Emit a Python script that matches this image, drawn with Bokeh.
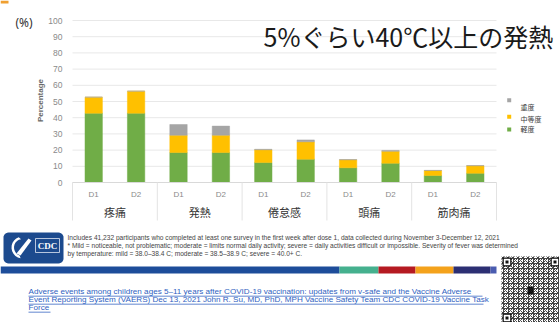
import math
from bokeh.plotting import figure
from bokeh.models import Range1d, ColumnDataSource
from bokeh.core.properties import value
from bokeh.embed import file_html
from bokeh.resources import INLINE

# ---------------- data ----------------
groups = ["疼痛", "発熱", "倦怠感", "頭痛", "筋肉痛"]
doses = ["D1", "D2"]
mild = [42.8, 42.8, 18.5, 18.5, 12.3, 14.4, 9.1, 11.9, 4.3, 5.7]
moderate = [9.9, 13.6, 10.7, 10.7, 7.9, 10.7, 4.9, 7.4, 3.1, 4.6]
severe = [0.0, 0.0, 6.6, 5.6, 0.3, 1.2, 0.2, 0.5, 0.1, 0.2]
y_ticks = [0, 10, 20, 30, 40, 50, 60, 70, 80, 90, 100]
severity_labels = ["軽度", "中等度", "重度"]
severity_colors = ["#70ad47", "#ffc000", "#a5a5a5"]
title_text = "5%ぐらい40℃以上の発熱"
unit_text = "(%)"
y_label = "Percentage"
footnote_lines = [
    "Includes 41,232 participants who completed at least one survey in the first week after dose 1, data collected during November 3-December 12, 2021",
    "* Mild = noticeable, not problematic; moderate = limits normal daily activity; severe = daily activities difficult or impossible. Severity of fever was determined",
    "by temperature: mild = 38.0\u201338.4 C; moderate = 38.5\u201338.9 C; severe = 40.0+ C.",
]
source_lines = [
    "Adverse events among children ages 5\u201311 years after COVID-19 vaccination: updates from v-safe and the Vaccine Adverse",
    "Event Reporting System (VAERS) Dec 13, 2021 John R. Su, MD, PhD, MPH Vaccine Safety Team CDC COVID-19 Vaccine Task",
    "Force",
]
band_colors = ["#1d4d9a", "#45b08e", "#b51a22", "#f4a21c", "#2c2f73", "#4a5cb0"]

# ---------------- layout constants (pixels) ----------------
W, H = 559, 322
FL, FR, FT, FB = 72, 496, 20, 182      # chart plotting area on the page

factors = [(g, d) for g in groups for d in doses]
n_slots = len(factors)
xpos = [i + 0.5 for i in range(n_slots)]
gcent = [2 * k + 1 for k in range(len(groups))]
gedges = [2 * k for k in range(len(groups) + 1)]

s = (FR - FL) / n_slots          # pixels per slot
kpx = (FB - FT) / 100.0          # pixels per percent

p = figure(width=W, height=H,
           x_range=Range1d(-FL / s, (W - FL) / s),
           y_range=Range1d((FB - H) / kpx, FB / kpx),
           output_backend="svg", toolbar_location=None,
           x_axis_location=None, y_axis_location=None,
           min_border=0, min_border_left=0, min_border_right=0,
           min_border_top=0, min_border_bottom=0)
p.outline_line_color = None
p.background_fill_color = "white"
p.border_fill_color = "white"
p.grid.visible = False
# page-pixel helper ranges for the slide decorations
p.extra_x_ranges = {"px": Range1d(0, W)}
p.extra_y_ranges = {"py": Range1d(H, 0)}

def ptext(x, y, text, size, color, font="Liberation Sans", align="left",
          style="normal", xname="px", yname="py", baseline="middle", angle=0):
    p.text(x=x, y=y, text=text, x_range_name=xname, y_range_name=yname,
           text_font=value(font), text_font_size=value(size), text_color=color,
           text_align=align, text_baseline=baseline, text_font_style=style,
           angle=angle)

def pquad(l, r, t, b, color, xname="px", yname="py", **kw):
    p.quad(left=l, right=r, top=t, bottom=b, x_range_name=xname, y_range_name=yname,
           fill_color=color, line_color=None, **kw)

# ---------------- chart ----------------
# grid lines
p.segment(x0=[0] * len(y_ticks), x1=[n_slots] * len(y_ticks), y0=y_ticks, y1=y_ticks,
          line_color="#e8e8e8", line_width=1)
# bars
src = ColumnDataSource(dict(x=xpos, mild=mild, moderate=moderate, severe=severe))
p.vbar_stack(["mild", "moderate", "severe"], x="x", width=0.41,
             color=severity_colors, line_color=severity_colors, line_width=0.5,
             source=src)
# category axis line and separators
p.segment(x0=[0], x1=[n_slots], y0=[0], y1=[0], line_color="#d9d9d9", line_width=1)
p.segment(x0=gedges, x1=gedges, y0=[FB] * len(gedges), y1=[220] * len(gedges),
          y_range_name="py", line_color="#e3e3e3", line_width=1)
# y tick labels
ptext([FL - 10] * len(y_ticks), y_ticks, [str(t) for t in y_ticks], "8.5px", "#8a8a8a",
      align="right", yname="default")
# y axis title
ptext([40], [100], [y_label], "8px", "#6a6a6a", align="center", style="bold", angle=math.pi / 2)
# dose labels
ptext(xpos, [194] * n_slots, [d for g, d in factors], "8px", "#8a8a8a",
      align="center", xname="default")
# group labels
ptext(gcent, [211] * len(groups), groups, "11px", "#333333", font="Noto Sans CJK JP",
      align="center", xname="default")

# legend (top to bottom: 重度, 中等度, 軽度)
leg_y_sq = [129, 116.3, 99.7]
leg_y_tx = [128.3, 118.5, 106.5]
pquad([506.7] * 3, [510.7] * 3, [y - 2 for y in leg_y_sq], [y + 2 for y in leg_y_sq],
      severity_colors)
ptext([520] * 3, leg_y_tx, severity_labels, "7px", "#404040", font="Noto Sans CJK JP")

# ---------------- slide decorations ----------------
ptext([263], [35], [title_text], "25px", "#1a1a1a", font="Noto Sans CJK JP")
ptext([15], [22], [unit_text], "12px", "#333333", font="Noto Sans")

# top fragment
pquad([0], [8], [0], [3], "#f0a030")

# CDC logo (rounded box)
def rrect(l, r, t, b, rad):
    pts = []
    for cx, cy, a0 in [(r - rad, t + rad, 270), (r - rad, b - rad, 0),
                       (l + rad, b - rad, 90), (l + rad, t + rad, 180)]:
        for a in range(a0, a0 + 91, 15):
            pts.append((cx + rad * math.cos(math.radians(a)), cy + rad * math.sin(math.radians(a))))
    return [q[0] for q in pts], [q[1] for q in pts]

lx, ly = rrect(3, 63, 232, 263, 5)
p.patch(lx, ly, x_range_name="px", y_range_name="py", fill_color="#1c4a8e", line_color=None)
outer = [(22 + 11 * math.cos(math.radians(a)), 247 + 11 * math.sin(math.radians(a))) for a in range(100, 265, 15)]
inner = [(22 + 8.5 * math.cos(math.radians(a)), 247 + 8.5 * math.sin(math.radians(a))) for a in range(260, 95, -15)]
arc = outer + inner
p.patch([q[0] for q in arc], [q[1] for q in arc], x_range_name="px", y_range_name="py",
        fill_color="white", line_color=None)
p.patch([16, 28, 31, 20], [253, 238, 240, 255], x_range_name="px", y_range_name="py",
        fill_color="white", line_color=None)
p.quad(left=[35], right=[59], top=[238], bottom=[252], x_range_name="px", y_range_name="py",
       fill_color=None, line_color="#dfe6f2", line_width=0.8)
ptext([47], [245], ["CDC"], "9px", "white", font="Liberation Serif", align="center", style="bold")

# footnote
ptext([67] * 3, [237, 245, 253], footnote_lines, "6.6px", "#444444")

# colour band
band_edges = [0, 339, 378, 415, 453, 490, 496]
pquad(band_edges[:-1], band_edges[1:], [266] * 6, [273] * 6, band_colors)

# source link (underlined)
link_col = "#2f5fbf"
ptext([28] * 3, [291, 299, 307], source_lines, "8.1px", link_col)
pquad([28] * 3, [482, 483, 50], [295.2, 303.2, 311.2], [296, 304, 312], link_col)

# QR code
p.quad(left=[501], right=[559], top=[256], bottom=[322], x_range_name="px", y_range_name="py",
       fill_color="white", line_color=None, hatch_pattern="criss_cross",
       hatch_color="#444444", hatch_scale=5, hatch_weight=1.0)
for (qx, qy) in [(502, 257), (550, 257), (502, 313)]:
    pquad([qx], [qx + 9], [qy], [qy + 9], "#111111")
    pquad([qx + 1.3], [qx + 7.7], [qy + 1.3], [qy + 7.7], "white")
    pquad([qx + 3], [qx + 6], [qy + 3], [qy + 6], "#111111")
pquad([527], [533], [286], [294], "#111111")

open("out.html", "w").write(file_html(p, INLINE))
